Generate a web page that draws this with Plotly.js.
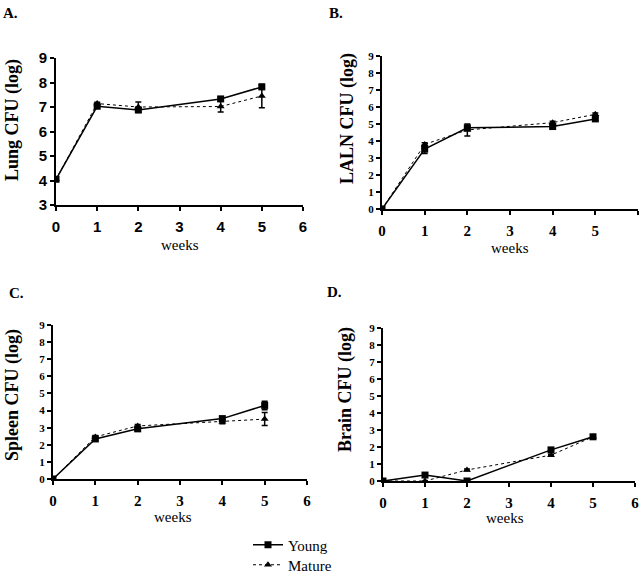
<!DOCTYPE html>
<html><head><meta charset="utf-8">
<script src="https://cdn.plot.ly/plotly-3.0.1.min.js"></script>
<style>body{margin:0;background:#fff}#c{width:640px;height:573px}</style>
</head><body><div id="c"></div>
<script>
const weeks = [0, 1, 2, 4, 5];

const lungYoung = [4.05, 7.03, 6.88, 7.33, 7.82];
const lungYoungErr = [0, 0.05, 0.1, 0.08, 0.08];
const lungMature = [4.05, 7.14, 7.0, 7.02, 7.45];
const lungMatureErr = [0, 0.05, 0.2, 0.22, 0.48];

const lalnYoung = [0, 3.52, 4.78, 4.85, 5.3];
const lalnYoungErr = [0, 0.25, 0.1, 0.08, 0.08];
const lalnMature = [0, 3.8, 4.65, 5.08, 5.57];
const lalnMatureErr = [0, 0.1, 0.35, 0.08, 0.08];

const spleenYoung = [0, 2.34, 2.93, 3.53, 4.3];
const spleenYoungErr = [0, 0.08, 0.08, 0.1, 0.25];
const spleenMature = [0, 2.46, 3.1, 3.35, 3.5];
const spleenMatureErr = [0, 0.08, 0.08, 0.12, 0.38];

const brainYoung = [0, 0.35, 0, 1.83, 2.6];
const brainYoungErr = [0, 0.05, 0, 0.05, 0.05];
const brainMature = [0, 0, 0.65, 1.52, 2.6];
const brainMatureErr = [0, 0, 0.05, 0.05, 0.05];

const panelLabels = ['A.', 'B.', 'C.', 'D.'];
const yTitles = ['Lung CFU (log)', 'LALN CFU (log)', 'Spleen CFU (log)', 'Brain CFU (log)'];
const xTitle = 'weeks';
const seriesNames = ['Young', 'Mature'];

const panels = [
  {y: lungYoung, ye: lungYoungErr, m: lungMature, me: lungMatureErr},
  {y: lalnYoung, ye: lalnYoungErr, m: lalnMature, me: lalnMatureErr},
  {y: spleenYoung, ye: spleenYoungErr, m: spleenMature, me: spleenMatureErr},
  {y: brainYoung, ye: brainYoungErr, m: brainMature, me: brainMatureErr}
];

const W = 640, H = 573;
const fx = p => p / W, fy = p => 1 - p / H;
// pixel boxes [left, right, bottom, top]
const boxes = [[56, 303, 205, 58], [382, 638, 209, 56], [53, 307, 479, 325], [383, 635, 481, 328]];

const traces = [];
panels.forEach((p, i) => {
  const xa = i === 0 ? 'x' : 'x' + (i + 1), ya = i === 0 ? 'y' : 'y' + (i + 1);
  traces.push({
    x: weeks, y: p.m, xaxis: xa, yaxis: ya, name: seriesNames[1], showlegend: i === 0,
    legend: 'legend2', mode: 'lines+markers',
    line: {color: '#000', width: 1, dash: 'dot'},
    marker: {symbol: 'triangle-up', size: 7, color: '#000'},
    error_y: {type: 'data', array: p.me, color: '#000', thickness: 1.5, width: 3}
  });
  traces.push({
    x: weeks, y: p.y, xaxis: xa, yaxis: ya, name: seriesNames[0], showlegend: i === 0,
    legend: 'legend', mode: 'lines+markers',
    line: {color: '#000', width: 1.5},
    marker: {symbol: 'square', size: 7, color: '#000'},
    error_y: {type: 'data', array: p.ye, color: '#000', thickness: 1.5, width: 3}
  });
});

const legFont = {family: 'Liberation Serif', size: 15, color: '#000'};
const layout = {
  width: W, height: H, margin: {l: 0, r: 0, t: 0, b: 0, autoexpand: false},
  paper_bgcolor: '#fff', plot_bgcolor: 'rgba(0,0,0,0)',
  showlegend: true,
  legend: {x: fx(248), y: fy(545), xanchor: 'left', yanchor: 'middle', bgcolor: 'rgba(0,0,0,0)',
    font: legFont, itemwidth: 30, maxheight: 200},
  legend2: {x: fx(248), y: fy(565), xanchor: 'left', yanchor: 'middle', bgcolor: 'rgba(0,0,0,0)',
    font: legFont, itemwidth: 30, maxheight: 200},
  annotations: [], font: {family: 'Liberation Serif', color: '#000'}
};

boxes.forEach((b, i) => {
  const sx = i === 0 ? '' : String(i + 1);
  const isA = i === 0;
  layout['xaxis' + sx] = {
    domain: [fx(b[0]), fx(b[1])], anchor: 'y' + sx, range: [0, 6], dtick: 1,
    showline: true, linecolor: '#000', linewidth: 2, ticks: 'outside', ticklen: 4, tickwidth: 2, tickcolor: '#000',
    ticklabelstandoff: 3,
    showgrid: false, zeroline: false, fixedrange: true,
    tickfont: isA ? {family: 'Liberation Sans', size: 15, weight: 'bold', color: '#000'}
                  : {family: 'Liberation Serif', size: 15, weight: 'bold', color: '#000'}
  };
  layout['yaxis' + sx] = {
    domain: [fy(b[2]), fy(b[3])], anchor: 'x' + sx, range: isA ? [3, 9] : [0, 9], dtick: 1,
    showline: true, linecolor: '#000', linewidth: 2, ticks: 'outside', ticklen: 4, tickwidth: 2, tickcolor: '#000',
    showgrid: false, zeroline: false, fixedrange: true,
    tickfont: isA ? {family: 'Liberation Sans', size: 15, weight: 'bold', color: '#000'}
                  : {family: 'Liberation Serif', size: 11, weight: 'bold', color: '#000'}
  };
});

const labelPos = [[1, 13], [327, 13], [7, 293], [325, 292]];
labelPos.forEach((p, i) => layout.annotations.push({
  text: panelLabels[i], xref: 'paper', yref: 'paper', x: fx(p[0]), y: fy(p[1]),
  xanchor: 'left', yanchor: 'middle', showarrow: false,
  font: {family: 'Liberation Serif', size: 15, weight: 'bold', color: '#000'}
}));

const titlePos = [[12, 120, 18], [347, 119, 18], [12, 395, 18], [345, 390, 18]];
titlePos.forEach((p, i) => layout.annotations.push({
  text: yTitles[i], xref: 'paper', yref: 'paper', x: fx(p[0]), y: fy(p[1]),
  xanchor: 'center', yanchor: 'middle', textangle: -90, showarrow: false,
  font: {family: 'Liberation Serif', size: p[2], weight: 'bold', color: '#000'}
}));

const wPos = [[180, 245], [510, 248], [173, 517], [505, 518]];
wPos.forEach(p => layout.annotations.push({
  text: xTitle, xref: 'paper', yref: 'paper', x: fx(p[0]), y: fy(p[1]),
  xanchor: 'center', yanchor: 'middle', showarrow: false,
  font: {family: 'Liberation Serif', size: 15, color: '#000'}
}));

Plotly.newPlot('c', traces, layout, {staticPlot: true});
</script></body></html>
